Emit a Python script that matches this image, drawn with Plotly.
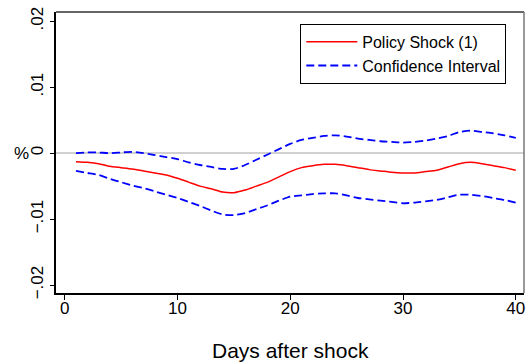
import plotly.graph_objects as go

days = list(range(1, 41))
policy_shock = [-0.0013, -0.0014, -0.0016, -0.0020, -0.0022, -0.0024, -0.0027, -0.0030, -0.0033, -0.0038,
                -0.0044, -0.0050, -0.0054, -0.0059, -0.0060, -0.0056, -0.0050, -0.0044, -0.0036, -0.0028,
                -0.0022, -0.0019, -0.0017, -0.0017, -0.0019, -0.0022, -0.0025, -0.0027, -0.0029, -0.0030,
                -0.0030, -0.0028, -0.0026, -0.0021, -0.0016, -0.0014, -0.0016, -0.0019, -0.0022, -0.0026]
ci_upper = [0.0000, 0.0001, 0.0001, 0.0000, 0.0001, 0.0002, 0.0000, -0.0003, -0.0006, -0.0009,
            -0.0014, -0.0018, -0.0021, -0.0024, -0.0024, -0.0018, -0.0010, -0.0002, 0.0006, 0.0014,
            0.0020, 0.0023, 0.0026, 0.0027, 0.0025, 0.0022, 0.0020, 0.0018, 0.0017, 0.0016,
            0.0017, 0.0019, 0.0022, 0.0026, 0.0032, 0.0034, 0.0032, 0.0030, 0.0027, 0.0023]
ci_lower = [-0.0027, -0.0030, -0.0033, -0.0039, -0.0044, -0.0049, -0.0053, -0.0058, -0.0063, -0.0068,
            -0.0074, -0.0080, -0.0087, -0.0093, -0.0094, -0.0091, -0.0085, -0.0079, -0.0072, -0.0066,
            -0.0064, -0.0062, -0.0061, -0.0061, -0.0064, -0.0068, -0.0070, -0.0072, -0.0074, -0.0076,
            -0.0075, -0.0073, -0.0071, -0.0067, -0.0063, -0.0063, -0.0065, -0.0068, -0.0071, -0.0075]

x_ticks = [0, 10, 20, 30, 40]
y_ticks = [-0.02, -0.01, 0, 0.01, 0.02]
y_ticktext = ["\u2212.02", "\u2212.01", "0", ".01", ".02"]

FONT = "Liberation Sans, Arial, sans-serif"

fig = go.Figure()
fig.add_trace(go.Scatter(x=days, y=policy_shock, mode="lines", name="Policy Shock (1)",
                         line=dict(color="#ff0000", width=1.5, shape="spline", smoothing=0.6)))
fig.add_trace(go.Scatter(x=days, y=ci_upper, mode="lines", name="Confidence Interval",
                         line=dict(color="#0000ff", width=1.8, dash="8px,4px", shape="spline", smoothing=0.6)))
fig.add_trace(go.Scatter(x=days, y=ci_lower, mode="lines", name="Confidence Interval", showlegend=False,
                         line=dict(color="#0000ff", width=1.8, dash="8px,4px", shape="spline", smoothing=0.6)))

fig.update_layout(
    width=532, height=363,
    margin=dict(l=56, r=7, t=8, b=70),
    paper_bgcolor="white", plot_bgcolor="white",
    font=dict(family=FONT, size=17, color="black"),
    legend=dict(x=0.522, y=0.958, xanchor="left", yanchor="top",
                bordercolor="black", borderwidth=1, bgcolor="white",
                font=dict(size=16), tracegroupgap=0, itemwidth=51),
    xaxis=dict(range=[-0.77, 40.73], tickvals=x_ticks, ticks="outside", ticklen=5,
               tickcolor="black", showline=True, linecolor="black", linewidth=1.5,
               showgrid=False, zeroline=False, tickfont=dict(size=17), ticklabelstandoff=-6),
    yaxis=dict(range=[-0.0212, 0.02139], tickvals=y_ticks, ticktext=y_ticktext,
               tickangle=-90, ticks="outside", ticklen=4, tickcolor="black",
               showline=True, linecolor="black", linewidth=1.5,
               showgrid=False, zeroline=True, zerolinecolor="#d0d0d0", zerolinewidth=2,
               tickfont=dict(size=17)),
    showlegend=True,
)

# frame top and right
fig.add_shape(type="line", xref="paper", yref="paper", x0=0, x1=1, y0=1, y1=1,
              line=dict(color="#333333", width=1.5))
fig.add_shape(type="line", xref="paper", yref="paper", x0=1, x1=1, y0=0, y1=1,
              line=dict(color="#777777", width=1.5))

fig.add_annotation(text="Days after shock", xref="paper", yref="paper", x=0.5, y=0,
                   yshift=-57, showarrow=False, font=dict(size=21), yanchor="middle")
fig.add_annotation(text="%", xref="paper", yref="y", x=0, y=0, xshift=-35,
                   showarrow=False, font=dict(size=17), xanchor="center", yanchor="middle")

fig.write_html("out.html", post_script="document.body.style.margin='0';",
               config={"displayModeBar": False})
